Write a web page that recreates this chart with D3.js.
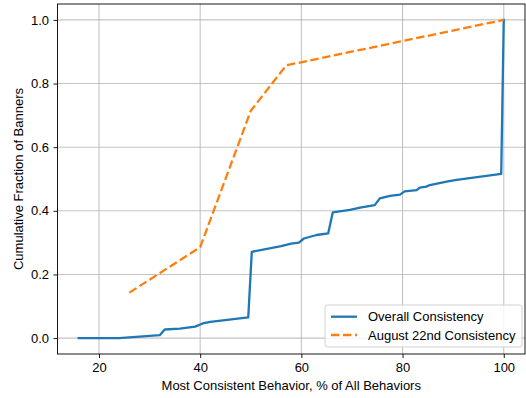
<!DOCTYPE html>
<html>
<head>
<meta charset="utf-8">
<script src="https://cdn.jsdelivr.net/npm/d3@7"></script>
<style>
  html, body { margin: 0; padding: 0; background: #fff; }
  svg { display: block; font-family: "Liberation Sans", Arial, Helvetica, sans-serif; }
</style>
</head>
<body>
<svg id="chart" width="526" height="398"></svg>
<script>
// Cumulative distribution of the most consistent behavior share per banner
const overallX = [16, 24, 32, 33, 36, 39, 40.5, 42, 49.5, 50.2, 56, 58, 59.5, 60.5, 63, 65.3, 66.2, 69.6, 71.6, 74.5, 75.5, 77.5, 79.5, 80.4, 82.8, 83.4, 84.7, 85.4, 88.7, 90.7, 99.5, 100];
const overallY = [0, 0, 0.009, 0.027, 0.030, 0.036, 0.046, 0.051, 0.065, 0.271, 0.289, 0.297, 0.300, 0.313, 0.324, 0.329, 0.395, 0.403, 0.410, 0.418, 0.439, 0.447, 0.451, 0.461, 0.465, 0.473, 0.476, 0.481, 0.492, 0.497, 0.516, 1.0];

const augustX = [26, 40, 50, 57, 100];
const augustY = [1 / 7, 2 / 7, 5 / 7, 6 / 7, 1.0];

const xTicks = [20, 40, 60, 80, 100];
const yTicks = [0.0, 0.2, 0.4, 0.6, 0.8, 1.0];

const seriesNames = ["Overall Consistency", "August 22nd Consistency"];
const seriesColors = ["#1f77b4", "#ff7f0e"];

const xLabel = "Most Consistent Behavior, % of All Behaviors";
const yLabel = "Cumulative Fraction of Banners";

const svg = d3.select("#chart");
const plot = { left: 57.5, right: 525, top: 4, bottom: 354 };

// axis limits padded by 5% of the data span
const allX = overallX.concat(augustX);
const xmin = d3.min(allX), xmax = d3.max(allX);
const xpad = (xmax - xmin) * 0.05;
const x = d3.scaleLinear().domain([xmin - xpad, xmax + xpad]).range([plot.left, plot.right]);
const y = d3.scaleLinear().domain([-0.05, 1.05]).range([plot.bottom, plot.top]);

const fontSize = 13;

// grid
const grid = svg.append("g");
grid.selectAll(".gx").data(xTicks).join("line")
  .attr("x1", d => x(d)).attr("x2", d => x(d))
  .attr("y1", plot.top).attr("y2", plot.bottom)
  .attr("stroke", "#b0b0b0").attr("stroke-opacity", 0.75).attr("stroke-width", 1.1);
grid.selectAll(".gy").data(yTicks).join("line")
  .attr("x1", plot.left).attr("x2", plot.right)
  .attr("y1", d => y(d)).attr("y2", d => y(d))
  .attr("stroke", "#b0b0b0").attr("stroke-opacity", 0.75).attr("stroke-width", 1.1);

// axes
const xAxis = d3.axisBottom(x).tickValues(xTicks).tickSize(4).tickPadding(5).tickFormat(d3.format("d"));
const yAxis = d3.axisLeft(y).tickValues(yTicks).tickSize(4).tickPadding(4.5).tickFormat(d3.format(".1f"));

const gx = svg.append("g").attr("transform", `translate(0,${plot.bottom})`).call(xAxis);
const gy = svg.append("g").attr("transform", `translate(${plot.left},0)`).call(yAxis);
[gx, gy].forEach(g => {
  g.select(".domain").remove();
  g.selectAll(".tick line").attr("stroke", "#000").attr("stroke-width", 0.9);
  g.selectAll(".tick text").attr("fill", "#000").style("font-size", fontSize + "px")
    .style("font-family", "'Liberation Sans', Arial, sans-serif");
});

// lines
const lineGen = d3.line().x(d => x(d[0])).y(d => y(d[1]));
const overall = overallX.map((v, i) => [v, overallY[i]]);
const august = augustX.map((v, i) => [v, augustY[i]]);

const clip = svg.append("clipPath").attr("id", "clip").append("rect")
  .attr("x", plot.left).attr("y", plot.top)
  .attr("width", plot.right - plot.left).attr("height", plot.bottom - plot.top);

const lines = svg.append("g").attr("clip-path", "url(#clip)");
lines.append("path").datum(overall).attr("d", lineGen)
  .attr("fill", "none").attr("stroke", seriesColors[0]).attr("stroke-width", 2.3)
  .attr("stroke-linejoin", "round").attr("stroke-linecap", "square");
lines.append("path").datum(august).attr("d", lineGen)
  .attr("fill", "none").attr("stroke", seriesColors[1]).attr("stroke-width", 2.3)
  .attr("stroke-dasharray", "8.4,3.6");

// frame
svg.append("rect")
  .attr("x", plot.left).attr("y", plot.top)
  .attr("width", plot.right - plot.left).attr("height", plot.bottom - plot.top)
  .attr("fill", "none").attr("stroke", "#000").attr("stroke-width", 0.9);

// axis titles
svg.append("text").attr("x", (plot.left + plot.right) / 2).attr("y", 389.5)
  .attr("text-anchor", "middle").style("font-size", fontSize + "px").text(xLabel);
svg.append("text")
  .attr("transform", `translate(23,${(plot.top + plot.bottom) / 2}) rotate(-90)`)
  .attr("text-anchor", "middle").style("font-size", fontSize + "px").text(yLabel);

// legend
const leg = svg.append("g").attr("transform", "translate(325,305)");
leg.append("rect").attr("width", 197).attr("height", 42).attr("rx", 2.5)
  .attr("fill", "#fff").attr("fill-opacity", 0.8).attr("stroke", "#cccccc").attr("stroke-width", 0.9);
seriesNames.forEach((name, i) => {
  const ly = 11.7 + i * 18.3;
  leg.append("line").attr("x1", 6).attr("x2", 32).attr("y1", ly).attr("y2", ly)
    .attr("stroke", seriesColors[i]).attr("stroke-width", 2.3)
    .attr("stroke-dasharray", i === 1 ? "8.4,3.6" : null);
  leg.append("text").attr("x", 43).attr("y", ly + 4.6).style("font-size", fontSize + "px").text(name);
});
</script>
</body>
</html>
